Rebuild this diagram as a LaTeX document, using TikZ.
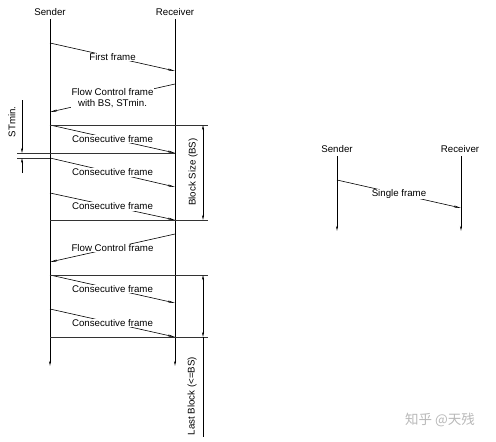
\documentclass[tikz,border=0pt]{standalone}
\usepackage{fontspec}
\setmainfont{Liberation Sans}
\newfontfamily\cjk{Noto Sans CJK SC}
\usetikzlibrary{positioning, arrows.meta, calc}

\begin{document}
\begin{tikzpicture}[x=1pt, y=-1pt, font=\fontsize{9.7}{11}\selectfont,
    life/.style={line width=0.8pt, -{Stealth[length=5pt,width=2pt]}},
    msg/.style={line width=0.6pt, -{Stealth[length=7pt,width=2pt]}},
    lbl/.style={fill=white, inner sep=0.6pt},
    sep/.style={line width=0.6pt, black!80},
    dim/.style={line width=0.5pt, {Stealth[length=5pt,width=2pt]}-{Stealth[length=5pt,width=2pt]}},
    dimlbl/.style={rotate=90, inner sep=0pt}]
    \useasboundingbox (0,0) rectangle (496,442);

    % left chart: segmented transfer
    \node (s) at (50,12) {Sender};
    \node (r) at (175,12) {Receiver};
    \coordinate (sb) at (50,366);
    \coordinate (rb) at (175,366);
    \draw[life] (s) -- (sb);
    \draw[life] (r) -- (rb);

    \coordinate (ff0) at (50,43);   \coordinate (ff1) at (175,71);
    \coordinate (fc0) at (175,84);  \coordinate (fc1) at (50,112);
    \coordinate (c10) at (50,125);  \coordinate (c11) at (175,153);
    \coordinate (c20) at (50,158);  \coordinate (c21) at (175,187);
    \coordinate (c30) at (50,193);  \coordinate (c31) at (175,220);
    \coordinate (fd0) at (175,234); \coordinate (fd1) at (50,262);
    \coordinate (c40) at (50,275);  \coordinate (c41) at (175,303);
    \coordinate (c50) at (50,309);  \coordinate (c51) at (175,337);

    \path[msg]
        (ff0) edge node[lbl] {First frame} (ff1)
        (fc0) edge node[lbl, align=center] {Flow Control frame\\with BS, STmin.} (fc1)
        (c10) edge node[lbl] {Consecutive frame} (c11)
        (c20) edge node[lbl] {Consecutive frame} (c21)
        (c30) edge node[lbl] {Consecutive frame} (c31)
        (fd0) edge node[lbl] {Flow Control frame} (fd1)
        (c40) edge node[lbl] {Consecutive frame} (c41)
        (c50) edge node[lbl] {Consecutive frame} (c51);

    % block borders
    \coordinate (bs0) at (208,125);
    \coordinate (bs1) at (208,220);
    \coordinate (lb0) at (208,275);
    \coordinate (lb1) at (208,337);
    \coordinate (st0) at (17,153);
    \coordinate (st1) at (17,158);
    \draw[sep] (c10) -- (bs0);
    \draw[sep] (c31 -| c30) -- (bs1);
    \draw[sep] (c40) -- (lb0);
    \draw[sep] (c51 -| c50) -- (lb1);
    \draw[sep] (st0) -- (c11);
    \draw[sep] (st1) -- (c20);

    % dimensions
    \coordinate (bsa) at (203,125); \coordinate (bsb) at (203,220);
    \coordinate (lba) at (203,275); \coordinate (lbb) at (203,337);
    \coordinate (lbe) at (203,437);
    \coordinate (sta) at (22,100);  \coordinate (stb) at (22,153);
    \coordinate (stc) at (22,158);  \coordinate (std) at (22,173);
    \draw[dim] (bsa) -- (bsb);
    \node[dimlbl] (bsl) at (193,172) {Block Size (BS)};
    \draw[dim] (lba) -- (lbb);
    \draw[line width=0.5pt] (lbb) -- (lbe);
    \node[dimlbl] (lbl) at (192,396) {Last Block (<=BS)};
    \draw[line width=0.5pt, -{Stealth[length=5pt,width=2pt]}] (sta) -- (stb);
    \draw[line width=0.5pt, -{Stealth[length=5pt,width=2pt]}] (std) -- (stc);
    \node[dimlbl] (stl) at (12,122) {STmin.};

    % right chart: single frame
    \node (s2) at (337,149) {Sender};
    \node (r2) at (460,149) {Receiver};
    \coordinate (s2b) at (337,231);
    \coordinate (r2b) at (461,231);
    \draw[life] (s2) -- (s2b);
    \draw[life] (r2.south -| r2b) -- (r2b);
    \coordinate (sf0) at (337,180); \coordinate (sf1) at (461,208);
    \path[msg] (sf0) edge node[lbl] {Single frame} (sf1);

    \node[text=black!28, font=\cjk\fontsize{13.5}{15}\selectfont] (wm) at (440,420) {知乎 @天残};
\end{tikzpicture}
\end{document}
